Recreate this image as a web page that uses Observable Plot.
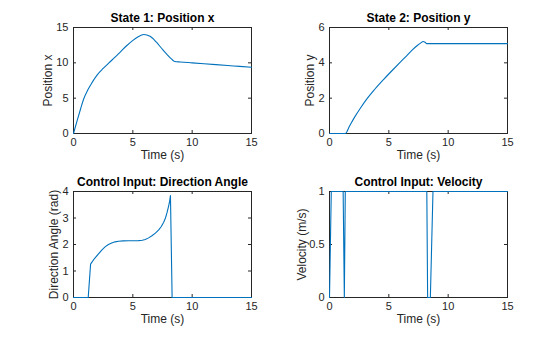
<!DOCTYPE html>
<html>
<head>
<meta charset="utf-8">
<script src="https://cdn.jsdelivr.net/npm/d3@7"></script>
<script src="https://cdn.jsdelivr.net/npm/@observablehq/plot@0.6"></script>
<style>
  html, body { margin: 0; padding: 0; background: #fff; }
  #chart { position: relative; width: 560px; height: 337px; background: #fff; overflow: hidden; }
  #chart > svg { position: absolute; }
</style>
</head>
<body>
<div id="chart"></div>
<script>
// ---- Data ----
const timeX = [0, 0.3, 0.6, 0.85, 1.2, 1.56, 2.0, 2.5, 2.99, 3.5, 3.98, 4.5, 4.98, 5.45, 5.92, 6.45, 6.97, 7.4, 7.82, 8.25, 8.53, 9, 10, 11, 12, 13, 14, 15];
const positionX = [0, 1.8, 3.5, 4.85, 6.15, 7.2, 8.3, 9.2, 10.0, 10.8, 11.6, 12.45, 13.15, 13.7, 14.0, 13.75, 12.95, 12.1, 11.29, 10.55, 10.19, 10.12, 10.0, 9.88, 9.75, 9.62, 9.5, 9.37];

const timeY = [0, 1.33, 1.7, 2.13, 2.6, 3.12, 3.8, 4.55, 5.3, 5.97, 6.5, 6.96, 7.4, 7.7, 7.88, 8.05, 8.2, 8.5, 15];
const positionY = [0, 0, 0.44, 0.94, 1.43, 1.93, 2.49, 3.05, 3.58, 4.04, 4.4, 4.72, 4.98, 5.13, 5.21, 5.17, 5.09, 5.09, 5.09];

const timeA = [0, 1.24, 1.44, 1.75, 2.09, 2.38, 2.66, 2.94, 3.22, 3.5, 3.79, 4.2, 4.63, 5.05, 5.48, 5.8, 6.05, 6.33, 6.61, 6.9, 7.18, 7.4, 7.6, 7.75, 7.88, 8.0, 8.1, 8.17, 8.31, 15];
const angle = [0, 0, 1.26, 1.46, 1.64, 1.79, 1.91, 2.0, 2.06, 2.1, 2.125, 2.135, 2.14, 2.14, 2.145, 2.16, 2.19, 2.25, 2.33, 2.43, 2.55, 2.68, 2.84, 3.0, 3.2, 3.42, 3.63, 3.85, 0, 0];

const timeV = [0, 0.15, 1.15, 1.25, 1.33, 8.2, 8.27, 8.5, 8.72, 15];
const velocity = [0, 1, 1, 0, 1, 1, 0, 0, 1, 1];

const timeTicks = [0, 5, 10, 15];
const ticksX = [0, 5, 10, 15];
const ticksY = [0, 2, 4, 6];
const ticksA = [0, 1, 2, 3, 4];
const ticksV = [0, 0.5, 1];

const titles = ["State 1: Position x", "State 2: Position y", "Control Input: Direction Angle", "Control Input: Velocity"];
const yLabels = ["Position x", "Position y", "Direction Angle (rad)", "Velocity (m/s)"];
const xLabel = "Time (s)";

// ---- Drawing ----
const LINE = "#0072BD";
const INK = "#262626";
const FONT = "'Liberation Sans', Arial, Helvetica, sans-serif";
const fmt = d => String(d);

function panel({t, v, curve, yDomain, yTicks, title, yLabel, left, top, width, height, mL, mR, mT, mB, yLabelDx}) {
  const fw = width - mL - mR;
  const fh = height - mT - mB;
  const pts = t.map((d, i) => ({t: d, v: v[i]}));
  const svg = Plot.plot({
    width, height,
    marginLeft: mL, marginRight: mR, marginTop: mT, marginBottom: mB,
    style: {fontFamily: FONT, fontSize: "11px", color: INK, background: "transparent", overflow: "visible"},
    x: {domain: [0, 15], ticks: timeTicks},
    y: {domain: yDomain, ticks: yTicks},
    marks: [
      Plot.frame({stroke: INK, strokeWidth: 1}),
      // inner tick marks on all four sides
      Plot.tickX(timeTicks, {x: d => d, insetTop: fh - 3, stroke: INK}),
      Plot.tickX(timeTicks, {x: d => d, insetBottom: fh - 3, stroke: INK}),
      Plot.tickY(yTicks, {y: d => d, insetRight: fw - 3, stroke: INK}),
      Plot.tickY(yTicks, {y: d => d, insetLeft: fw - 3, stroke: INK}),
      Plot.axisX(timeTicks, {tickSize: 0, tickPadding: 5, label: null, fill: INK, tickFormat: fmt}),
      Plot.axisY(yTicks, {tickSize: 0, tickPadding: 5, label: null, fill: INK, tickFormat: fmt}),
      Plot.lineY(pts, {x: "t", y: "v", stroke: LINE, strokeWidth: 1.1, curve}),
      Plot.text([title], {frameAnchor: "top", textAnchor: "middle", lineAnchor: "top", dy: -14, fontWeight: "bold", fontSize: 12, fill: "#000"}),
      Plot.text([xLabel], {frameAnchor: "bottom", textAnchor: "middle", lineAnchor: "top", dy: 17, fontSize: 12, fill: INK}),
      Plot.text([yLabel], {frameAnchor: "left", textAnchor: "middle", rotate: -90, dx: yLabelDx, lineAnchor: "middle", fontSize: 12, fill: INK})
    ]
  });
  svg.style.left = left + "px";
  svg.style.top = top + "px";
  return svg;
}

const chart = document.getElementById("chart");
chart.appendChild(panel({t: timeX, v: positionX, curve: "monotone-x", yDomain: [0, 15], yTicks: ticksX, title: titles[0], yLabel: yLabels[0],
  left: 0, top: 0, width: 280, height: 168, mL: 73, mR: 29, mT: 27, mB: 35, yLabelDx: -25}));
chart.appendChild(panel({t: timeY, v: positionY, curve: "monotone-x", yDomain: [0, 6], yTicks: ticksY, title: titles[1], yLabel: yLabels[1],
  left: 280, top: 0, width: 280, height: 168, mL: 49, mR: 53, mT: 27, mB: 35, yLabelDx: -19}));
chart.appendChild(panel({t: timeA, v: angle, curve: "linear", yDomain: [0, 4], yTicks: ticksA, title: titles[2], yLabel: yLabels[2],
  left: 0, top: 168, width: 280, height: 169, mL: 73, mR: 29, mT: 23, mB: 40, yLabelDx: -19}));
chart.appendChild(panel({t: timeV, v: velocity, curve: "linear", yDomain: [0, 1], yTicks: ticksV, title: titles[3], yLabel: yLabels[3],
  left: 280, top: 168, width: 280, height: 169, mL: 49, mR: 53, mT: 23, mB: 40, yLabelDx: -27}));
</script>
</body>
</html>
